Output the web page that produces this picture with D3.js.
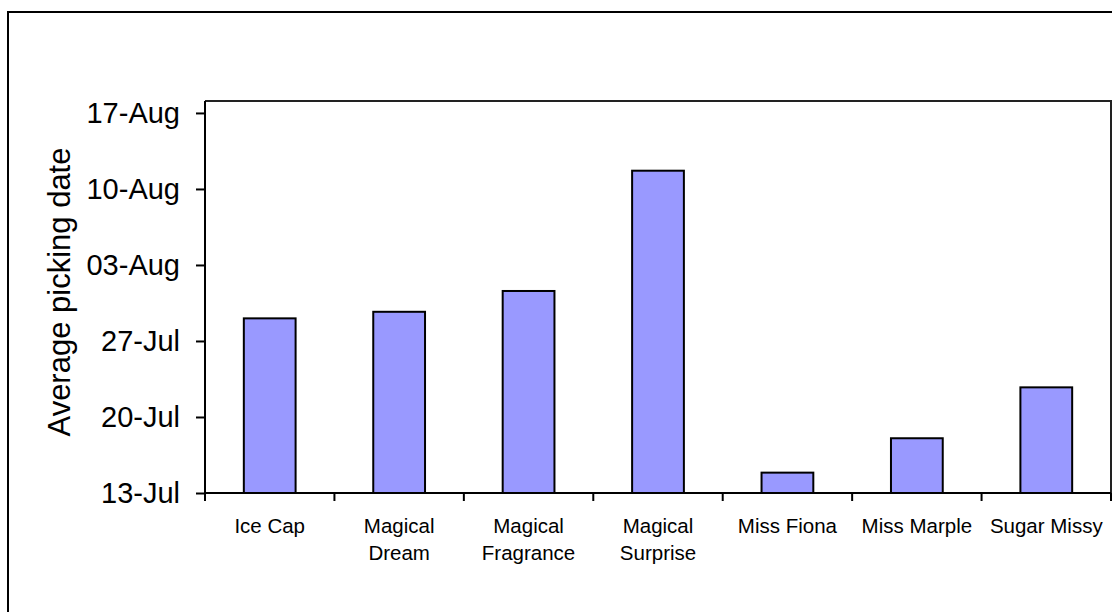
<!DOCTYPE html>
<html>
<head>
<meta charset="utf-8">
<script src="https://cdn.jsdelivr.net/npm/d3@7"></script>
<style>
  html, body { margin: 0; padding: 0; background: #fff; }
  svg { display: block; font-family: "Liberation Sans", Arial, sans-serif; }
</style>
</head>
<body>
<svg id="chart" width="1112" height="612"></svg>
<script>
// ---- data ----
const categories = ["Ice Cap", "Magical Dream", "Magical Fragrance", "Magical Surprise", "Miss Fiona", "Miss Marple", "Sugar Missy"];
const categoryLines = [["Ice Cap"], ["Magical", "Dream"], ["Magical", "Fragrance"], ["Magical", "Surprise"], ["Miss Fiona"], ["Miss Marple"], ["Sugar Missy"]];
const pickingDates = ["2007-07-29T02:00", "2007-07-29T16:30", "2007-07-31T14:30", "2007-08-11T16:20", "2007-07-14T21:00", "2007-07-18T01:00", "2007-07-22T17:30"];
const yTickDates = ["2007-07-13", "2007-07-20", "2007-07-27", "2007-08-03", "2007-08-10", "2007-08-17"];
const yDomain = ["2007-07-13T00:00", "2007-08-18T02:24"];
const yTitle = "Average picking date";

// ---- layout ----
const svg = d3.select("#chart");
const plot = { left: 205, right: 1111, top: 101, bottom: 493 };
const parse = s => new Date(s);
const fmt = d3.timeFormat("%d-%b");

// outer chart border
svg.append("rect")
  .attr("x", 8).attr("y", 12).attr("width", 1200).attr("height", 700)
  .attr("fill", "none").attr("stroke", "#000").attr("stroke-width", 2);

const y = d3.scaleTime()
  .domain(yDomain.map(parse))
  .range([plot.bottom, plot.top]);

const x = d3.scaleBand()
  .domain(categories)
  .range([plot.left, plot.right])
  .paddingInner(0.6)
  .paddingOuter(0.3);

// plot area border (top & right)
svg.append("path")
  .attr("d", `M${plot.left},${plot.top}H${plot.right}V${plot.bottom}`)
  .attr("fill", "none").attr("stroke", "#222").attr("stroke-width", 2);

// bars
svg.append("g").selectAll("rect")
  .data(categories)
  .join("rect")
  .attr("x", d => x(d))
  .attr("width", x.bandwidth())
  .attr("y", (d, i) => y(parse(pickingDates[i])))
  .attr("height", (d, i) => plot.bottom - y(parse(pickingDates[i])))
  .attr("fill", "#9999FF")
  .attr("stroke", "#000")
  .attr("stroke-width", 2);

// y axis
const yAxis = d3.axisLeft(y)
  .tickValues(yTickDates.map(parse))
  .tickFormat(fmt)
  .tickSize(9)
  .tickPadding(16);
const gy = svg.append("g")
  .attr("transform", `translate(${plot.left},0)`)
  .call(yAxis);
gy.select(".domain").attr("stroke", "#000").attr("stroke-width", 2)
  .attr("d", `M0,${plot.top}V${plot.bottom}`);
gy.selectAll(".tick line").attr("stroke", "#000").attr("stroke-width", 2);
gy.selectAll(".tick text")
  .attr("font-size", 29).attr("fill", "#000")
  .attr("font-family", "'Liberation Sans', Arial, sans-serif");

// x axis (ticks at category boundaries)
const boundaries = d3.range(categories.length + 1).map(i => plot.left + i * (plot.right - plot.left) / categories.length);
const gx = svg.append("g");
gx.append("line")
  .attr("x1", plot.left).attr("x2", plot.right)
  .attr("y1", plot.bottom).attr("y2", plot.bottom)
  .attr("stroke", "#000").attr("stroke-width", 2);
gx.selectAll("line.t")
  .data(boundaries)
  .join("line")
  .attr("class", "t")
  .attr("x1", d => d).attr("x2", d => d)
  .attr("y1", plot.bottom).attr("y2", plot.bottom + 8)
  .attr("stroke", "#000").attr("stroke-width", 2);

// category labels
const labels = gx.selectAll("text.cat")
  .data(categories)
  .join("text")
  .attr("class", "cat")
  .attr("text-anchor", "middle")
  .attr("font-size", 20.5)
  .attr("fill", "#000");
labels.each(function(d, i) {
  const cx = x(d) + x.bandwidth() / 2;
  d3.select(this).selectAll("tspan")
    .data(categoryLines[i])
    .join("tspan")
    .attr("x", cx)
    .attr("y", (t, j) => 533 + j * 27)
    .text(t => t);
});

// y title
svg.append("text")
  .attr("transform", "translate(59,292) rotate(-90)")
  .attr("text-anchor", "middle")
  .attr("dominant-baseline", "central")
  .attr("font-size", 31)
  .attr("fill", "#000")
  .text(yTitle);
</script>
</body>
</html>
